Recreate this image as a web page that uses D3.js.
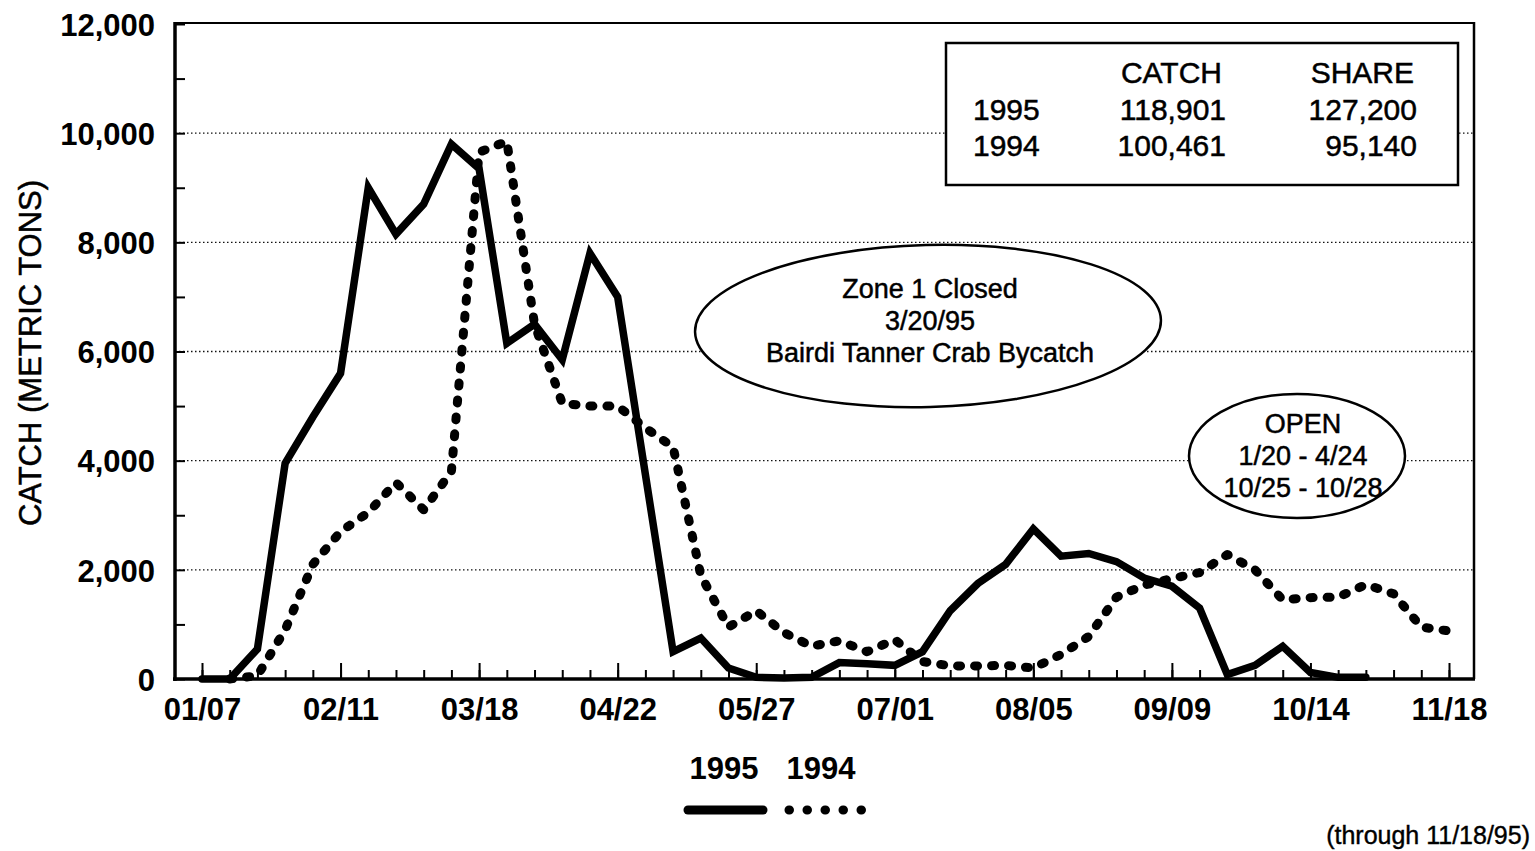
<!DOCTYPE html>
<html><head><meta charset="utf-8">
<script src="https://cdn.jsdelivr.net/npm/d3@7"></script>
<style>
body{margin:0;background:#fff}
svg{display:block}
text{font-family:"Liberation Sans",Arial,Helvetica,sans-serif;fill:#000}
.reg{stroke:#000;stroke-width:0.5px}
</style>
</head><body>
<svg id="chart" width="1535" height="851"></svg>
<script>
// ---------- data ----------
const weeks = ["01/07","01/14","01/21","01/28","02/04","02/11","02/18","02/25","03/04","03/11",
  "03/18","03/25","04/01","04/08","04/15","04/22","04/29","05/06","05/13","05/20",
  "05/27","06/03","06/10","06/17","06/24","07/01","07/08","07/15","07/22","07/29",
  "08/05","08/12","08/19","08/26","09/02","09/09","09/16","09/23","09/30","10/07",
  "10/14","10/21","10/28","11/04","11/11","11/18"];
const tickLabels = ["01/07","02/11","03/18","04/22","05/27","07/01","08/05","09/09","10/14","11/18"];
const catch1995 = [0,0,550,3950,4800,5600,9000,8150,8700,9800,
  9350,6150,6500,5850,7800,7000,3750,500,750,200,
  30,20,30,300,280,250,500,1250,1750,2100,
  2750,2250,2300,2150,1850,1700,1300,80,250,600,
  120,30,30,null,null,null];
const catch1994 = [null,0,60,900,2100,2700,3050,3600,3100,3800,
  9650,9850,6500,5050,5000,5000,4600,4250,1900,950,
  1250,850,600,700,500,720,320,240,240,250,
  200,450,780,1500,1720,1840,1950,2280,2000,1450,
  1490,1500,1730,1560,950,880];
const yTicks = [0,2000,4000,6000,8000,10000,12000];
const yMinor = [1000,3000,5000,7000,9000,11000];
const gridValues = [2000,4000,6000,8000,10000];
const seriesNames = ["1995","1994"];
const tableHead = ["CATCH","SHARE"];
const tableRows = [["1995","118,901","127,200"],["1994","100,461","95,140"]];
const closedNote = ["Zone 1 Closed","3/20/95","Bairdi Tanner Crab Bycatch"];
const openNote = ["OPEN","1/20 - 4/24","10/25 - 10/28"];
const yTitle = "CATCH (METRIC TONS)";
const footnote = "(through 11/18/95)";

// ---------- layout ----------
const svg = d3.select("#chart");
const L = 175, R = 1474, T = 24, B = 679;
const x = d3.scalePoint().domain(weeks).range([202, 1449]);
const y = d3.scaleLinear().domain([0, 12000]).range([B, T]);

// gridlines
svg.append("g").selectAll("line").data(gridValues).join("line")
  .attr("x1", L).attr("x2", R).attr("y1", d => y(d)).attr("y2", d => y(d))
  .attr("stroke", "#111").attr("stroke-width", 1.3).attr("stroke-dasharray", "1.5,2.5");

// x axis minor ticks
svg.append("g").attr("transform", `translate(0,${B})`)
  .call(d3.axisBottom(x).tickValues(weeks).tickSize(-9).tickFormat(""))
  .call(g => g.select(".domain").remove())
  .call(g => g.selectAll(".tick line").attr("stroke", "#000").attr("stroke-width", 2));
// x axis major ticks + labels
svg.append("g").attr("transform", `translate(0,${B})`)
  .call(d3.axisBottom(x).tickValues(tickLabels).tickSize(-16).tickPadding(0))
  .call(g => g.select(".domain").remove())
  .call(g => g.selectAll(".tick line").attr("stroke", "#000").attr("stroke-width", 2))
  .call(g => g.selectAll(".tick text").attr("y", 41).attr("dy", 0)
    .style("font-size", "31px").style("font-weight", "bold")
    .style("font-family", "'Liberation Sans',Arial,sans-serif").attr("fill", "#000"));

// y axis
svg.append("g").attr("transform", `translate(${L},0)`)
  .call(d3.axisLeft(y).tickValues(yTicks).tickSize(-10).tickPadding(20).tickFormat(d3.format(",")))
  .call(g => g.select(".domain").remove())
  .call(g => g.selectAll(".tick line").attr("stroke", "#000").attr("stroke-width", 2))
  .call(g => g.selectAll(".tick text").attr("dy", "0.36em")
    .style("font-size", "31px").style("font-weight", "bold")
    .style("font-family", "'Liberation Sans',Arial,sans-serif").attr("fill", "#000"));
svg.append("g").attr("transform", `translate(${L},0)`)
  .call(d3.axisLeft(y).tickValues(yMinor).tickSize(-10).tickFormat(""))
  .call(g => g.select(".domain").remove())
  .call(g => g.selectAll(".tick line").attr("stroke", "#000").attr("stroke-width", 2));

// frame
svg.append("line").attr("x1", L).attr("x2", R).attr("y1", T - 1).attr("y2", T - 1).attr("stroke", "#000").attr("stroke-width", 2);
svg.append("line").attr("x1", R).attr("x2", R).attr("y1", T - 2).attr("y2", B).attr("stroke", "#000").attr("stroke-width", 2.5);
svg.append("line").attr("x1", L).attr("x2", L).attr("y1", T - 2).attr("y2", B + 2).attr("stroke", "#000").attr("stroke-width", 3.5);
svg.append("line").attr("x1", L - 2).attr("x2", R + 1).attr("y1", B).attr("y2", B).attr("stroke", "#000").attr("stroke-width", 3.5);

// summary box
const bx = 946, by = 43, bw = 512, bh = 142;
svg.append("rect").attr("x", bx).attr("y", by).attr("width", bw).attr("height", bh)
  .attr("fill", "#fff").attr("stroke", "#000").attr("stroke-width", 2.5);
const colRight = [null, 1226, 1417];
svg.append("text").attr("class", "reg").attr("x", 1222).attr("y", 83).attr("text-anchor", "end").style("font-size", "30px").text(tableHead[0]);
svg.append("text").attr("class", "reg").attr("x", 1414).attr("y", 83).attr("text-anchor", "end").style("font-size", "30px").text(tableHead[1]);
tableRows.forEach((row, i) => {
  const yy = 120 + i * 36;
  svg.append("text").attr("class", "reg").attr("x", 973).attr("y", yy).style("font-size", "30px").text(row[0]);
  svg.append("text").attr("class", "reg").attr("x", colRight[1]).attr("y", yy).attr("text-anchor", "end").style("font-size", "30px").text(row[1]);
  svg.append("text").attr("class", "reg").attr("x", colRight[2]).attr("y", yy).attr("text-anchor", "end").style("font-size", "30px").text(row[2]);
});

// closed note ellipse
svg.append("ellipse").attr("cx", 928).attr("cy", 326).attr("rx", 233).attr("ry", 81)
  .attr("transform", "rotate(-1.5,928,326)")
  .attr("fill", "#fff").attr("stroke", "#000").attr("stroke-width", 2.5);
closedNote.forEach((t, i) => {
  svg.append("text").attr("class", "reg").attr("x", 930).attr("y", 298 + i * 32).attr("text-anchor", "middle")
    .style("font-size", "27px").text(t);
});

// open note ellipse
svg.append("ellipse").attr("cx", 1297).attr("cy", 456).attr("rx", 108).attr("ry", 62)
  .attr("fill", "#fff").attr("stroke", "#000").attr("stroke-width", 2.5);
openNote.forEach((t, i) => {
  svg.append("text").attr("class", "reg").attr("x", 1303).attr("y", 433 + i * 32).attr("text-anchor", "middle")
    .style("font-size", "27px").text(t);
});

// lines
const mk = arr => weeks.map((w, i) => ({w, v: arr[i]}));
const line = d3.line().defined(d => d.v != null).x(d => x(d.w)).y(d => y(d.v));
svg.append("path").datum(mk(catch1994)).attr("d", line)
  .attr("fill", "none").attr("stroke", "#000").attr("stroke-width", 9)
  .attr("stroke-dasharray", "3,14").attr("stroke-linecap", "round").attr("stroke-linejoin", "round");
svg.append("path").datum(mk(catch1995)).attr("d", line)
  .attr("fill", "none").attr("stroke", "#000").attr("stroke-width", 7.5)
  .attr("stroke-linecap", "round").attr("stroke-linejoin", "miter").attr("stroke-miterlimit", 6);

// y title
svg.append("text").attr("class", "reg").attr("transform", "translate(41,353) rotate(-90)").attr("text-anchor", "middle")
  .style("font-size", "31px").text(yTitle);

// legend
svg.append("text").attr("x", 724).attr("y", 779).attr("text-anchor", "middle")
  .style("font-size", "31px").style("font-weight", "bold").text(seriesNames[0]);
svg.append("text").attr("x", 821).attr("y", 779).attr("text-anchor", "middle")
  .style("font-size", "31px").style("font-weight", "bold").text(seriesNames[1]);
svg.append("line").attr("x1", 688).attr("x2", 763).attr("y1", 810).attr("y2", 810)
  .attr("stroke", "#000").attr("stroke-width", 9).attr("stroke-linecap", "round");
svg.append("line").attr("x1", 789).attr("x2", 862).attr("y1", 810).attr("y2", 810)
  .attr("stroke", "#000").attr("stroke-width", 9).attr("stroke-linecap", "round")
  .attr("stroke-dasharray", "0.5,17.5");

// footnote
svg.append("text").attr("class", "reg").attr("x", 1530).attr("y", 844).attr("text-anchor", "end")
  .style("font-size", "25px").style("stroke-width", "0.4px").text(footnote);
</script>
</body></html>
